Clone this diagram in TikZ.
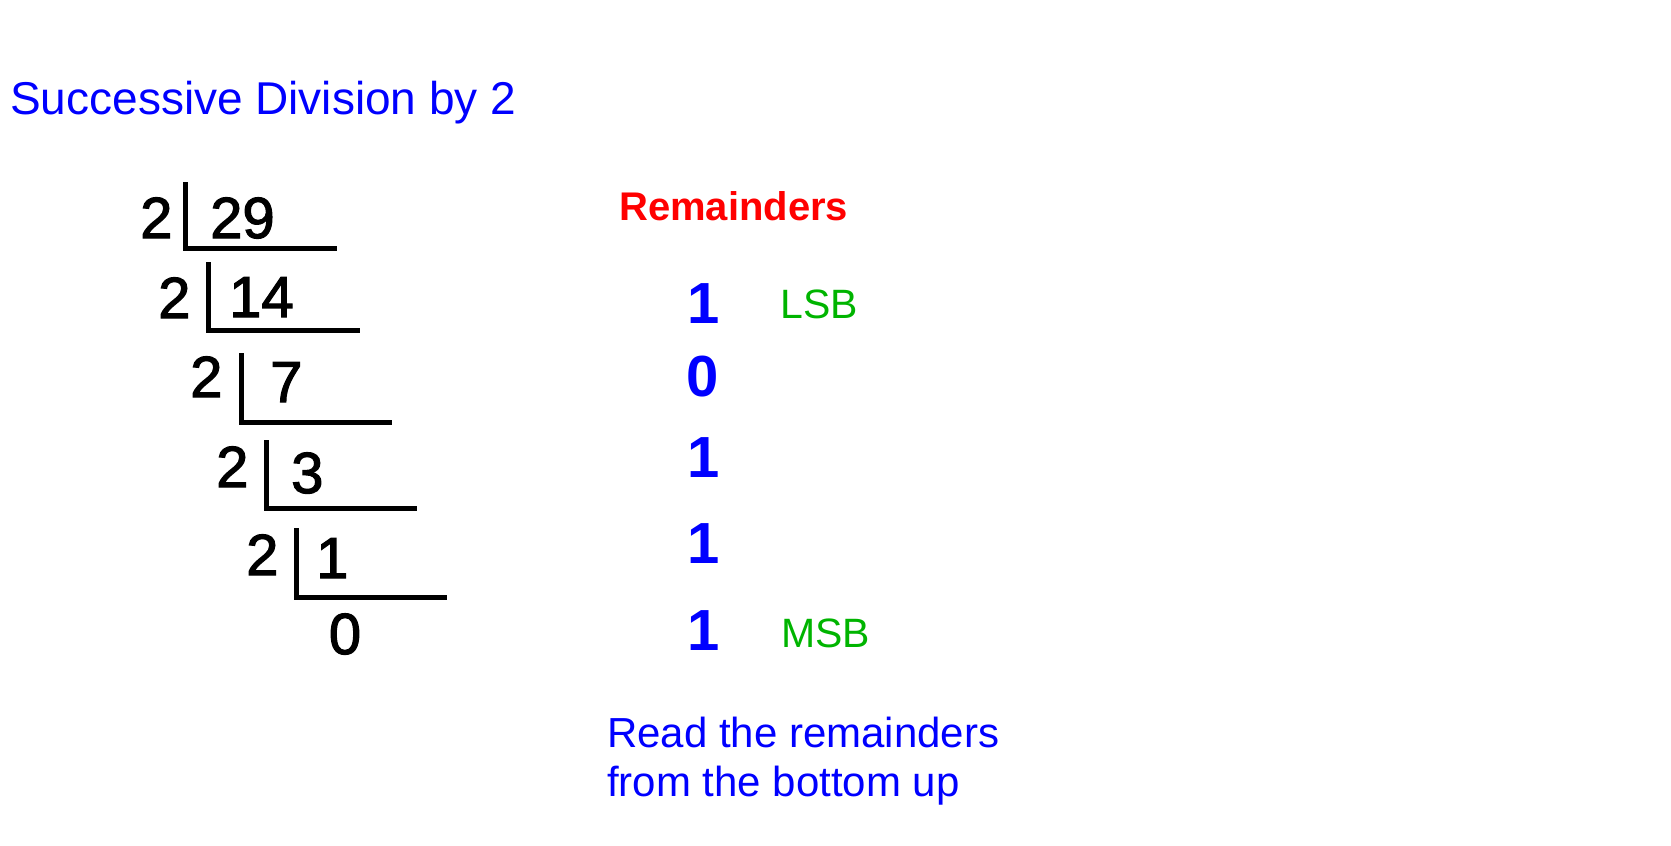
\documentclass[tikz,border=0pt]{standalone}
\usepackage{fontspec}
\setmainfont{Liberation Sans}
\newfontfamily\divfont{Liberation Sans}[FakeBold=2]
\definecolor{bitgreen}{RGB}{0,180,0}
\tikzstyle{number}=[inner sep=0pt, anchor=base west, font=\divfont\fontsize{58}{60}\selectfont]
\tikzstyle{remainder}=[inner sep=0pt, anchor=base, text=blue, font=\fontsize{58}{60}\selectfont\bfseries]
\tikzstyle{bit label}=[inner sep=0pt, anchor=base west, text=bitgreen, font=\fontsize{41}{45}\selectfont]
\tikzstyle{bracket}=[line width=5pt]

\begin{document}
\begin{tikzpicture}[x=1pt, y=-1pt]
      \useasboundingbox (0, 0) rectangle (1671, 846);

      \node[inner sep=0pt, anchor=base west, text=blue,
        font=\fontsize{46}{50}\selectfont] (title) at (10, 114)
        {Successive Division by 2};

      % the divisions
      \node[number] (two_29) at (140, 238) {2};
      \node[number] (num_29) at (210, 238) {29};
      \draw[bracket] (185, 182) |- (337, 248);

      \node[number] (two_14) at (158, 318) {2};
      \node[number] (num_14) at (229, 317) {14};
      \draw[bracket] (208, 262) |- (360, 330);

      \node[number] (two_7) at (190, 397) {2};
      \node[number] (num_7) at (270, 402) {7};
      \draw[bracket] (241, 353) |- (392, 422);

      \node[number] (two_3) at (216, 487) {2};
      \node[number] (num_3) at (291, 493) {3};
      \draw[bracket] (266, 440) |- (417, 508);

      \node[number] (two_1) at (246, 575) {2};
      \node[number] (num_1) at (316, 578) {1};
      \draw[bracket] (296, 528) |- (447, 597);

      \node[number, anchor=base] (num_0) at (345, 654) {0};

      % the remainders
      \node[inner sep=0pt, anchor=base west, text=red,
        font=\fontsize{40}{44}\selectfont\bfseries] (rem_title) at (619, 220)
        {Remainders};

      \node[remainder] (rem_1) at (704, 323) {1};
      \node[remainder] (rem_2) at (703, 396) {0};
      \node[remainder] (rem_3) at (704, 477) {1};
      \node[remainder] (rem_4) at (704, 563) {1};
      \node[remainder] (rem_5) at (704, 650) {1};

      \node[bit label] (lsb) at (780, 318) {LSB};
      \node[bit label] (msb) at (781, 647) {MSB};

      \node[inner sep=0pt, anchor=base west, align=left, text=blue,
        font=\fontsize{42}{49}\selectfont] (read) at (607, 796)
        {Read the remainders\\from the bottom up};
    \end{tikzpicture}
\end{document}
